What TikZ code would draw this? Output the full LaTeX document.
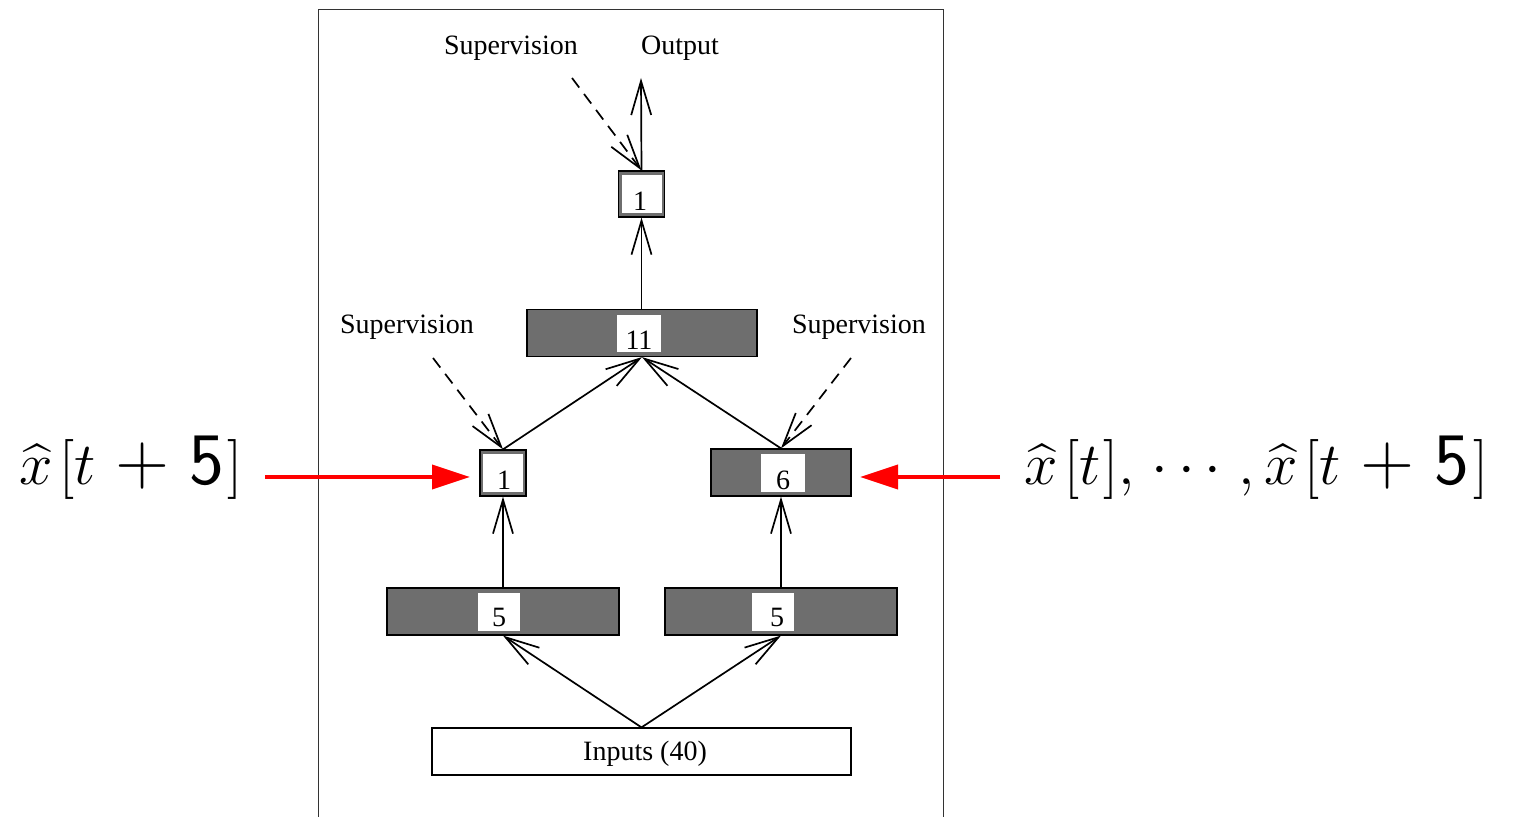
\RequirePackage{fix-cm}
\documentclass[tikz,border=0pt]{standalone}
\usepackage{fontspec}
\usepackage{amsmath}
\usetikzlibrary{arrows.meta}
\newfontfamily\tms{Liberation Serif}
\definecolor{barg}{HTML}{6E6E6E}
\definecolor{redarr}{HTML}{FF0000}
\newcommand{\sfp}{\mathbin{\mkern2mu\text{\fontsize{37}{44}\sffamily +}\mkern2mu}}
\newcommand{\sfl}{\mathopen{\mkern2mu[}}
\newcommand{\sfr}{\mathclose{\mkern1mu]}}
\newcommand{\sff}{\text{\fontsize{37}{44}\sffamily 5}}
\tikzset{
  lab/.style={font=\tms\fontsize{14}{16}\selectfont, inner sep=0pt},
  graybar/.style={draw=black, fill=barg, line width=0.6pt, inner sep=0pt, minimum height=23.5pt},
  smallbox/.style={draw=black, fill=barg, line width=0.6pt, inner sep=0pt, minimum width=23pt, minimum height=23pt},
  whitein/.style={fill=white, inner sep=0pt, text depth=0pt, font=\tms\fontsize{14}{16}\selectfont},
  conn/.style={line width=0.85pt, -{Straight Barb[length=17pt,width=10pt,line width=0.85pt]}},
  supv/.style={conn, dash pattern=on 6pt off 4pt},
  redconn/.style={draw=redarr, line width=1.8pt, -{Triangle[length=19pt,width=12pt]}},
  mathlab/.style={inner sep=0pt, font=\fontsize{30}{36}\selectfont},
}
\begin{document}
\begin{tikzpicture}[x=0.5pt,y=-0.5pt]
\useasboundingbox (0,0) rectangle (1522,817);
% frame
\draw[line width=0.5pt, black!80] (318,830) -- (318,10) -- (943,10) -- (943,830);

% nodes
\node[smallbox] (top1) at (641.5,194) {};
\node[whitein, minimum width=20pt, minimum height=19pt] (top1in) at (641.5,194) {};
\node[lab, anchor=base] at (640,211) {1};

\node[graybar, minimum width=115pt] (bar11) at (642,333) {};
\node[whitein, minimum width=22pt, minimum height=18.5pt] (bar11in) at (639,333.5) {};
\node[lab, anchor=base] at (639,350) {11};

\node[smallbox] (left1) at (503,473) {};
\node[whitein, minimum width=20pt, minimum height=19pt] (left1in) at (503,473) {};
\node[lab, anchor=base] at (504,490) {1};

\node[graybar, minimum width=70pt] (bar6) at (781,472.5) {};
\node[whitein, minimum width=22pt, minimum height=19pt] (bar6in) at (783,473) {};
\node[lab, anchor=base] at (783,490) {6};

\node[graybar, minimum width=116pt] (bar5L) at (503,611.5) {};
\node[whitein, minimum width=21pt, minimum height=19pt] (bar5Lin) at (499,612) {};
\node[lab, anchor=base] at (499,627) {5};

\node[graybar, minimum width=116pt] (bar5R) at (781,611.5) {};
\node[whitein, minimum width=21pt, minimum height=19pt] (bar5Rin) at (773,612) {};
\node[lab, anchor=base] at (777,627) {5};

\node[draw=black, line width=0.6pt, fill=white, minimum width=209.5pt, minimum height=23.5pt, inner sep=0pt] (inputs) at (641.5,751.5) {};
\node[lab] at (645,754) {Inputs (40)};

% labels
\node[lab] (supT) at (511,48) {Supervision};
\node[lab] (outT) at (680,48) {Output};
\node[lab] (supL) at (407,327) {Supervision};
\node[lab] (supR) at (859,327) {Supervision};

\coordinate (outEnd) at (641,78);
\coordinate (supTs) at (572,78);
\coordinate (supLs) at (433,358);
\coordinate (supRs) at (851,358);

% connectors
\draw[conn] (top1.north) -- (outEnd);
\draw[supv] (supTs) -- (top1.north);
\draw[conn] (bar11.north -| top1.south) -- (top1.south);
\draw[conn] (left1.north) -- (bar11.south);
\draw[conn] (bar6.north) -- (bar11.south);
\draw[supv] (supLs) -- (left1.north);
\draw[supv] (supRs) -- (bar6.north);
\draw[conn] (bar5L.north) -- (left1.south);
\draw[conn] (bar5R.north) -- (bar6.south);
\draw[conn] (inputs.north) -- (bar5L.south);
\draw[conn] (inputs.north) -- (bar5R.south);

% math labels
\node[mathlab] (mL) at (131,468) {$\widehat{x}\sfl t\sfp\sff\sfr$};
\node[mathlab] (mR) at (1256,468) {$\widehat{x}\sfl t\sfr,\mkern2mu\cdots\mkern2mu,\widehat{x}\sfl t\sfp\sff\sfr$};
\coordinate (mLe) at (265,477);
\coordinate (mRs) at (1000,477);
\coordinate (lTip) at (470,477);
\coordinate (rTip) at (860,477);
\draw[redconn] (mLe) -- (lTip);
\draw[redconn] (mRs) -- (rTip);
\end{tikzpicture}
\end{document}
